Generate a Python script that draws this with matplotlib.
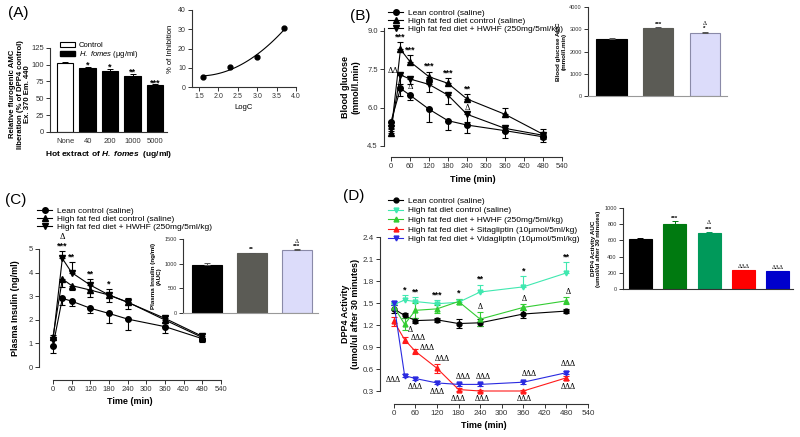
import numpy as np
import matplotlib
matplotlib.use("Agg")
import matplotlib.pyplot as plt
from matplotlib.lines import Line2D
from matplotlib.patches import Patch

plt.rcParams['font.family'] = ['Liberation Sans', 'DejaVu Sans']
plt.rcParams['mathtext.fontset'] = 'custom'
plt.rcParams['mathtext.rm'] = 'Liberation Sans'
plt.rcParams['mathtext.it'] = 'Liberation Sans:italic'
plt.rcParams['mathtext.bf'] = 'Liberation Sans:bold'
plt.rcParams['mathtext.bfit'] = 'Liberation Sans:italic:bold'

W, H = 800, 437

# ---- panel A data
doses = ['None', '40', '200', '1000', '5000']
relAMC = [103, 95, 90.5, 83.5, 69]
relAMC_err = [1.5, 1, 3, 2, 1.5]
relAMC_sig = ['', '*', '*', '**', '***']

logc = [1.6, 2.3, 3.0, 3.7]
inhib = [5.3, 10.4, 15.5, 30.4]

# ---- time course data
times = [0, 30, 60, 120, 180, 240, 360, 480]

glu_lean = [5.45, 6.75, 6.49, 5.94, 5.49, 5.32, 5.10, 4.86]
glu_lean_err = [0.15, 0.3, 0.2, 0.5, 0.35, 0.3, 0.3, 0.2]
glu_hfd = [5.0, 8.28, 7.8, 7.21, 6.95, 6.34, 5.74, 4.96]
glu_hfd_err = [0.15, 0.28, 0.25, 0.2, 0.2, 0.2, 0.25, 0.2]
glu_hwhf = [5.2, 7.28, 7.12, 6.91, 6.49, 5.74, 5.19, 4.92]
glu_hwhf_err = [0.1, 0.35, 0.2, 0.3, 0.35, 0.3, 0.15, 0.15]
glu_sig = ['', '***', '***', '***', '***', '**', '', '']
glu_delta = [(8, 7.45, 'ΔΔ'), (60, 6.8, 'Δ'), (240, 6.0, 'Δ')]

glu_auc = [2580, 3060, 2840]
glu_auc_err = [40, 40, 40]
glu_auc_sig = ['', '***', 'Δ\n*']

ins_lean = [0.89, 2.91, 2.79, 2.49, 2.27, 2.03, 1.71, 1.20]
ins_lean_err = [0.3, 0.3, 0.2, 0.2, 0.4, 0.45, 0.25, 0.15]
ins_hfd = [1.28, 3.73, 3.45, 3.26, 3.05, 2.75, 1.99, 1.25]
ins_hfd_err = [0.1, 0.35, 0.2, 0.3, 0.3, 0.3, 0.1, 0.1]
ins_hwhf = [1.14, 4.6, 4.0, 3.47, 3.05, 2.74, 2.06, 1.30]
ins_hwhf_err = [0.2, 0.3, 0.45, 0.25, 0.25, 0.2, 0.1, 0.1]
ins_sig = ['', '***', '**', '**', '*', '', '', '']

ins_auc = [980, 1208, 1275]
ins_auc_err = [30, 15, 15]
ins_auc_sig = ['', '**', 'Δ\n***']

dpp_lean = [1.42, 1.33, 1.26, 1.27, 1.22, 1.23, 1.35, 1.39]
dpp_lean_err = [0.05, 0.04, 0.03, 0.03, 0.06, 0.05, 0.06, 0.03]
dpp_hfd = [1.48, 1.54, 1.52, 1.49, 1.51, 1.65, 1.72, 1.91]
dpp_hfd_err = [0.04, 0.07, 0.06, 0.05, 0.05, 0.1, 0.15, 0.15]
dpp_hwhf = [1.45, 1.21, 1.40, 1.42, 1.52, 1.28, 1.44, 1.53]
dpp_hwhf_err = [0.05, 0.08, 0.1, 0.05, 0.04, 0.1, 0.04, 0.05]
dpp_sita = [1.25, 1.0, 0.84, 0.61, 0.32, 0.30, 0.30, 0.48]
dpp_sita_err = [0.06, 0.04, 0.03, 0.06, 0.02, 0.02, 0.02, 0.03]
dpp_vida = [1.50, 0.51, 0.47, 0.41, 0.39, 0.39, 0.42, 0.55]
dpp_vida_err = [0.03, 0.02, 0.02, 0.02, 0.02, 0.02, 0.02, 0.02]
dpp_sig = ['', '*', '**', '***', '*', '**', '*', '**']
dpp_delta = [(47, 1.13, 'Δ'), (240, 1.44, 'Δ'), (362, 1.56, 'Δ'), (485, 1.65, 'Δ'),
             (67, 1.02, 'ΔΔΔ'), (92, 0.88, 'ΔΔΔ'), (134, 0.73, 'ΔΔΔ'), (193, 0.49, 'ΔΔΔ'),
             (250, 0.49, 'ΔΔΔ'), (376, 0.53, 'ΔΔΔ'), (485, 0.67, 'ΔΔΔ'),
             (-3, 0.45, 'ΔΔΔ'), (59, 0.35, 'ΔΔΔ'), (120, 0.29, 'ΔΔΔ'), (180, 0.19, 'ΔΔΔ'),
             (246, 0.19, 'ΔΔΔ'), (362, 0.19, 'ΔΔΔ'), (485, 0.35, 'ΔΔΔ')]

dpp_auc = [617, 801, 687, 237, 224]
dpp_auc_err = [8, 30, 10, 5, 5]
dpp_auc_sig = ['', '***', 'Δ\n***', 'ΔΔΔ', 'ΔΔΔ']

lbl3 = ['Lean control (saline)', 'High fat fed diet control (saline)',
        'High fat fed diet + HWHF (250mg/5ml/kg)']
lbl5 = ['Lean control (saline)', 'High fat diet control (saline)',
        'High fat fed diet + HWHF (250mg/5ml/kg)',
        'High fat fed diet + Sitagliptin (10μmol/5ml/kg)',
        'High fat fed diet + Vidagliptin (10μmol/5ml/kg)']

DFONT = ['Liberation Serif', 'DejaVu Serif']

fig = plt.figure(figsize=(8, 4.37), dpi=100)


def px_axes(x0, y0, x1, y1):
    return fig.add_axes([x0 / W, 1 - y1 / H, (x1 - x0) / W, (y1 - y0) / H])


def prism(ax, size=5.5):
    for s in ['top', 'right']:
        ax.spines[s].set_visible(False)
    for s in ['left', 'bottom']:
        ax.spines[s].set_linewidth(0.8)
        ax.spines[s].set_color('#333333')
    ax.tick_params(direction='out', length=3, width=0.7, labelsize=size,
                   colors='#333333', pad=1.5)


def time_axis(ax, offset):
    ax.set_xticks(range(0, 541, 60))
    ax.spines['bottom'].set_bounds(0, 540)
    ax.spines['bottom'].set_position(('outward', offset))
    ax.set_xlabel('Time (min)', fontsize=6.5, fontweight='bold', labelpad=3)


def err(ax, x, y, e, direction, color, marker, ms=4):
    e = np.array(e)
    z = np.zeros_like(e)
    if direction == 'up':
        ye = [z, e]
    elif direction == 'down':
        ye = [e, z]
    else:
        ye = [e, e]
    ax.errorbar(x, y, yerr=ye, color=color, marker=marker, ms=ms, lw=0.8,
                elinewidth=0.8, capsize=2, capthick=0.8, clip_on=False)


def bar_err(ax, vals, errs, colors):
    for i, (v, e, c) in enumerate(zip(vals, errs, colors)):
        ax.errorbar(i, v, yerr=[[0], [e]], fmt='none', ecolor=c, elinewidth=0.7,
                    capsize=2, capthick=0.7)


def sig_bars(ax, vals, errs, sigs, step, fs=4.5):
    for i, (v, e, s) in enumerate(zip(vals, errs, sigs)):
        if not s:
            continue
        parts = s.split('\n')
        base = v + e + step * 0.1
        for k, p in enumerate(reversed(parts)):
            fam = DFONT if 'Δ' in p else None
            ax.text(i, base + k * step, p, ha='center', va='bottom', fontsize=fs,
                    fontweight='bold' if 'Δ' not in p else 'normal', family=fam)


def line_legend(ax, cols, marks, labels, x, y, ms, spacing):
    ax.legend(handles=[Line2D([], [], color=c, marker=m, ms=ms, lw=0.8)
                       for c, m in zip(cols, marks)],
              labels=labels, loc='upper left', bbox_to_anchor=(x / W, 1 - y / H),
              bbox_transform=fig.transFigure, frameon=False, fontsize=6, borderpad=0,
              handlelength=1.8, handletextpad=0.6, labelspacing=spacing)


# ---------------- Panel A ----------------
axA = px_axes(50, 47.7, 167, 132)
prism(axA)
xa = np.arange(len(doses))
axA.bar(xa[:1], relAMC[:1], 0.72, color='white', edgecolor='black', lw=0.8)
axA.bar(xa[1:], relAMC[1:], 0.72, color='black', edgecolor='black', lw=0.8)
bar_err(axA, relAMC, relAMC_err, ['black'] * 5)
for i, s in enumerate(relAMC_sig):
    if s:
        axA.text(i, relAMC[i] + relAMC_err[i] - 1, s, ha='center', va='baseline',
                 fontsize=6.5, fontweight='bold')
axA.set_ylim(0, 125)
axA.set_xlim(-0.67, 4.53)
axA.set_yticks([0, 25, 50, 75, 100, 125])
axA.set_xticks(xa)
axA.set_xticklabels(doses)
axA.tick_params(axis='x', length=0, pad=4)
axA.set_xlabel(r'Hot extract of $\mathbfit{H.\ fomes}$  (ug/ml)', fontsize=6,
               fontweight='bold', labelpad=3)
axA.set_ylabel('Relative flurogenic AMC\nliberation (% of DPP4 control)\nEx. 370 Em. 440',
               fontsize=5.6, fontweight='bold', linespacing=1.15)
axA.yaxis.set_label_coords(-0.16, 0.45)
axA.legend(handles=[Patch(facecolor='white', edgecolor='black', lw=0.8),
                    Patch(facecolor='black', edgecolor='black')],
           labels=['Control', r'$\it{H.\ fomes}$ (μg/ml)'], loc='upper left',
           bbox_to_anchor=(56 / W, 1 - 38 / H), bbox_transform=fig.transFigure,
           frameon=False, fontsize=5.5, borderpad=0, handlelength=2.0,
           handleheight=0.6, handletextpad=0.5, labelspacing=0.0)

axA2 = px_axes(192, 10, 296, 87)
prism(axA2, 5)
axA2.plot(logc, inhib, 'o', color='black', ms=3.5, clip_on=False)
fit = np.polyfit(logc, inhib, 2)
xs = np.linspace(min(logc), max(logc), 100)
axA2.plot(xs, np.polyval(fit, xs), color='black', lw=0.8)
axA2.set_ylim(0, 40)
axA2.set_xlim(1.32, 4.0)
axA2.set_yticks([0, 10, 20, 30, 40])
axA2.set_xticks([1.5, 2.0, 2.5, 3.0, 3.5, 4.0])
axA2.set_xlabel('LogC', fontsize=5.5, labelpad=3)
axA2.set_ylabel('% of Inhibition', fontsize=5.5, labelpad=3)

# ---------------- Panel B ----------------
axB = px_axes(384, 28.4, 562, 146)
prism(axB)
err(axB, times, glu_lean, glu_lean_err, 'down', 'black', 'o')
err(axB, times, glu_hfd, glu_hfd_err, 'up', 'black', '^')
err(axB, times, glu_hwhf, glu_hwhf_err, 'down', 'black', 'v')
for t, v, e, s in zip(times, glu_hfd, glu_hfd_err, glu_sig):
    if s:
        axB.text(t, v + e + 0.03, s, ha='center', va='bottom', fontsize=6.5,
                 fontweight='bold')
for t, v, s in glu_delta:
    axB.text(t, v, s, ha='center', va='center', fontsize=6, family=DFONT)
axB.set_ylim(4.5, 9.1)
axB.set_xlim(-22, 540)
axB.set_yticks([4.5, 6.0, 7.5, 9.0])
axB.spines['left'].set_bounds(4.5, 9.1)
time_axis(axB, 8)
axB.set_ylabel('Blood glucose\n(mmol/l.min)', fontsize=6.5, fontweight='bold')
axB.yaxis.set_label_coords(-0.13, 0.5)
line_legend(axB, ['black'] * 3, 'o^v', lbl3, 384, 5, 4, 0.0)

axB2 = px_axes(588, 7, 727, 96)
prism(axB2, 4)
xb = np.arange(3)
axB2.bar(xb, glu_auc, 0.65, color=['black', '#5b5b55', '#dcdcfa'],
         edgecolor=['black', '#5b5b55', '#8a8aa8'], lw=0.8)
bar_err(axB2, glu_auc, glu_auc_err, ['#555555'] * 3)
sig_bars(axB2, glu_auc, glu_auc_err, glu_auc_sig, 230)
axB2.set_ylim(0, 4000)
axB2.set_xlim(-0.505, 2.48)
axB2.set_yticks([0, 1000, 2000, 3000, 4000])
axB2.set_xticks([])
axB2.spines['bottom'].set_color('#999999')
axB2.set_ylabel('Blood glucose AUC\n(mmol/l.min)', fontsize=4.5, fontweight='bold',
                labelpad=2)

# ---------------- Panel C ----------------
axC = px_axes(39, 249, 221, 367)
prism(axC)
err(axC, times, ins_lean, ins_lean_err, 'down', 'black', 'o')
err(axC, times, ins_hfd, ins_hfd_err, 'down', 'black', '^')
err(axC, times, ins_hwhf, ins_hwhf_err, 'up', 'black', 'v')
for t, v, e, s in zip(times, ins_hwhf, ins_hwhf_err, ins_sig):
    if s:
        axC.text(t, v + e + 0.02, s, ha='center', va='bottom', fontsize=6.5,
                 fontweight='bold')
axC.text(times[1], ins_hwhf[1] + ins_hwhf_err[1] + 0.45, 'Δ', ha='center', va='bottom',
         fontsize=6, family=DFONT)
axC.set_ylim(0, 5)
axC.set_xlim(-45, 540)
axC.set_yticks(range(6))
time_axis(axC, 9)
axC.set_ylabel('Plasma Insulin (ng/ml)', fontsize=6.5, fontweight='bold')
axC.yaxis.set_label_coords(-0.105, 0.5)
line_legend(axC, ['black'] * 3, 'o^v', lbl3, 33, 203, 4, 0.0)

axC2 = px_axes(183, 239, 318, 313)
prism(axC2, 4)
axC2.bar(xb, ins_auc, 0.67, color=['black', '#5b5b55', '#dcdcfa'],
         edgecolor=['black', '#5b5b55', '#8a8aa8'], lw=0.8)
bar_err(axC2, ins_auc, ins_auc_err, ['#555555'] * 3)
sig_bars(axC2, ins_auc, ins_auc_err, ins_auc_sig, 100)
axC2.set_ylim(0, 1500)
axC2.set_xlim(-0.536, 2.48)
axC2.set_yticks([0, 500, 1000, 1500])
axC2.set_xticks([])
axC2.spines['bottom'].set_color('#999999')
axC2.set_ylabel('Plasma Insulin (ng/ml)\n(AUC)', fontsize=4.5, fontweight='bold',
                labelpad=2)

# ---------------- Panel D ----------------
cols = ['black', '#40e8b0', '#33cc33', '#ff1a1a', '#2a2ae0']
marks = ['o', 'v', '^', '^', 'v']
axD = px_axes(380, 237, 588, 391)
prism(axD, 5.8)
err(axD, times, dpp_lean, dpp_lean_err, 'both', cols[0], marks[0], 3.5)
err(axD, times, dpp_hfd, dpp_hfd_err, 'up', cols[1], marks[1], 3.5)
err(axD, times, dpp_hwhf, dpp_hwhf_err, 'both', cols[2], marks[2], 3.5)
err(axD, times, dpp_sita, dpp_sita_err, 'both', cols[3], marks[3], 3.5)
err(axD, times, dpp_vida, dpp_vida_err, 'both', cols[4], marks[4], 3.5)
for t, v, e, s in zip(times, dpp_hfd, dpp_hfd_err, dpp_sig):
    if s:
        axD.text(t, v + e + 0.01, s, ha='center', va='bottom', fontsize=6.5,
                 fontweight='bold')
for t, v, s in dpp_delta:
    axD.text(t, v, s, ha='center', va='center', fontsize=5.8, family=DFONT)
axD.set_ylim(0.3, 2.4)
axD.set_xlim(-38.5, 540)
axD.set_yticks(np.arange(0.3, 2.41, 0.3))
axD.yaxis.set_major_formatter(matplotlib.ticker.FormatStrFormatter('%.1f'))
time_axis(axD, 9)
axD.set_ylabel('DPP4 Activity\n(umol/ul after 30 minutes)', fontsize=6.5,
               fontweight='bold')
axD.yaxis.set_label_coords(-0.095, 0.5)
line_legend(axD, cols, marks, lbl5, 384, 193, 3.5, 0.2)

axD2 = px_axes(623, 207.7, 793, 289.3)
prism(axD2, 4)
xd = np.arange(5)
auc_cols = ['black', '#007a10', '#00995a', '#ff0000', '#0000cc']
axD2.bar(xd, dpp_auc, 0.67, color=auc_cols, edgecolor=auc_cols, lw=0.8)
bar_err(axD2, dpp_auc, dpp_auc_err, auc_cols)
sig_bars(axD2, dpp_auc, dpp_auc_err, dpp_auc_sig, 85)
axD2.set_ylim(0, 1000)
axD2.set_xlim(-0.51, 4.45)
axD2.set_yticks(range(0, 1001, 200))
axD2.set_xticks([])
axD2.set_ylabel('DPP4 Activity AUC\n(umol/ul after 30 minutes)', fontsize=4.5,
                fontweight='bold', labelpad=2)

# panel letters
for x, y, s in [(8, 13, '(A)'), (350, 16, '(B)'), (5, 200, '(C)'), (343, 196, '(D)')]:
    fig.text(x / W, 1 - y / H, s, fontsize=11, va='center', ha='left')

fig.savefig('out.png', dpi=100)
